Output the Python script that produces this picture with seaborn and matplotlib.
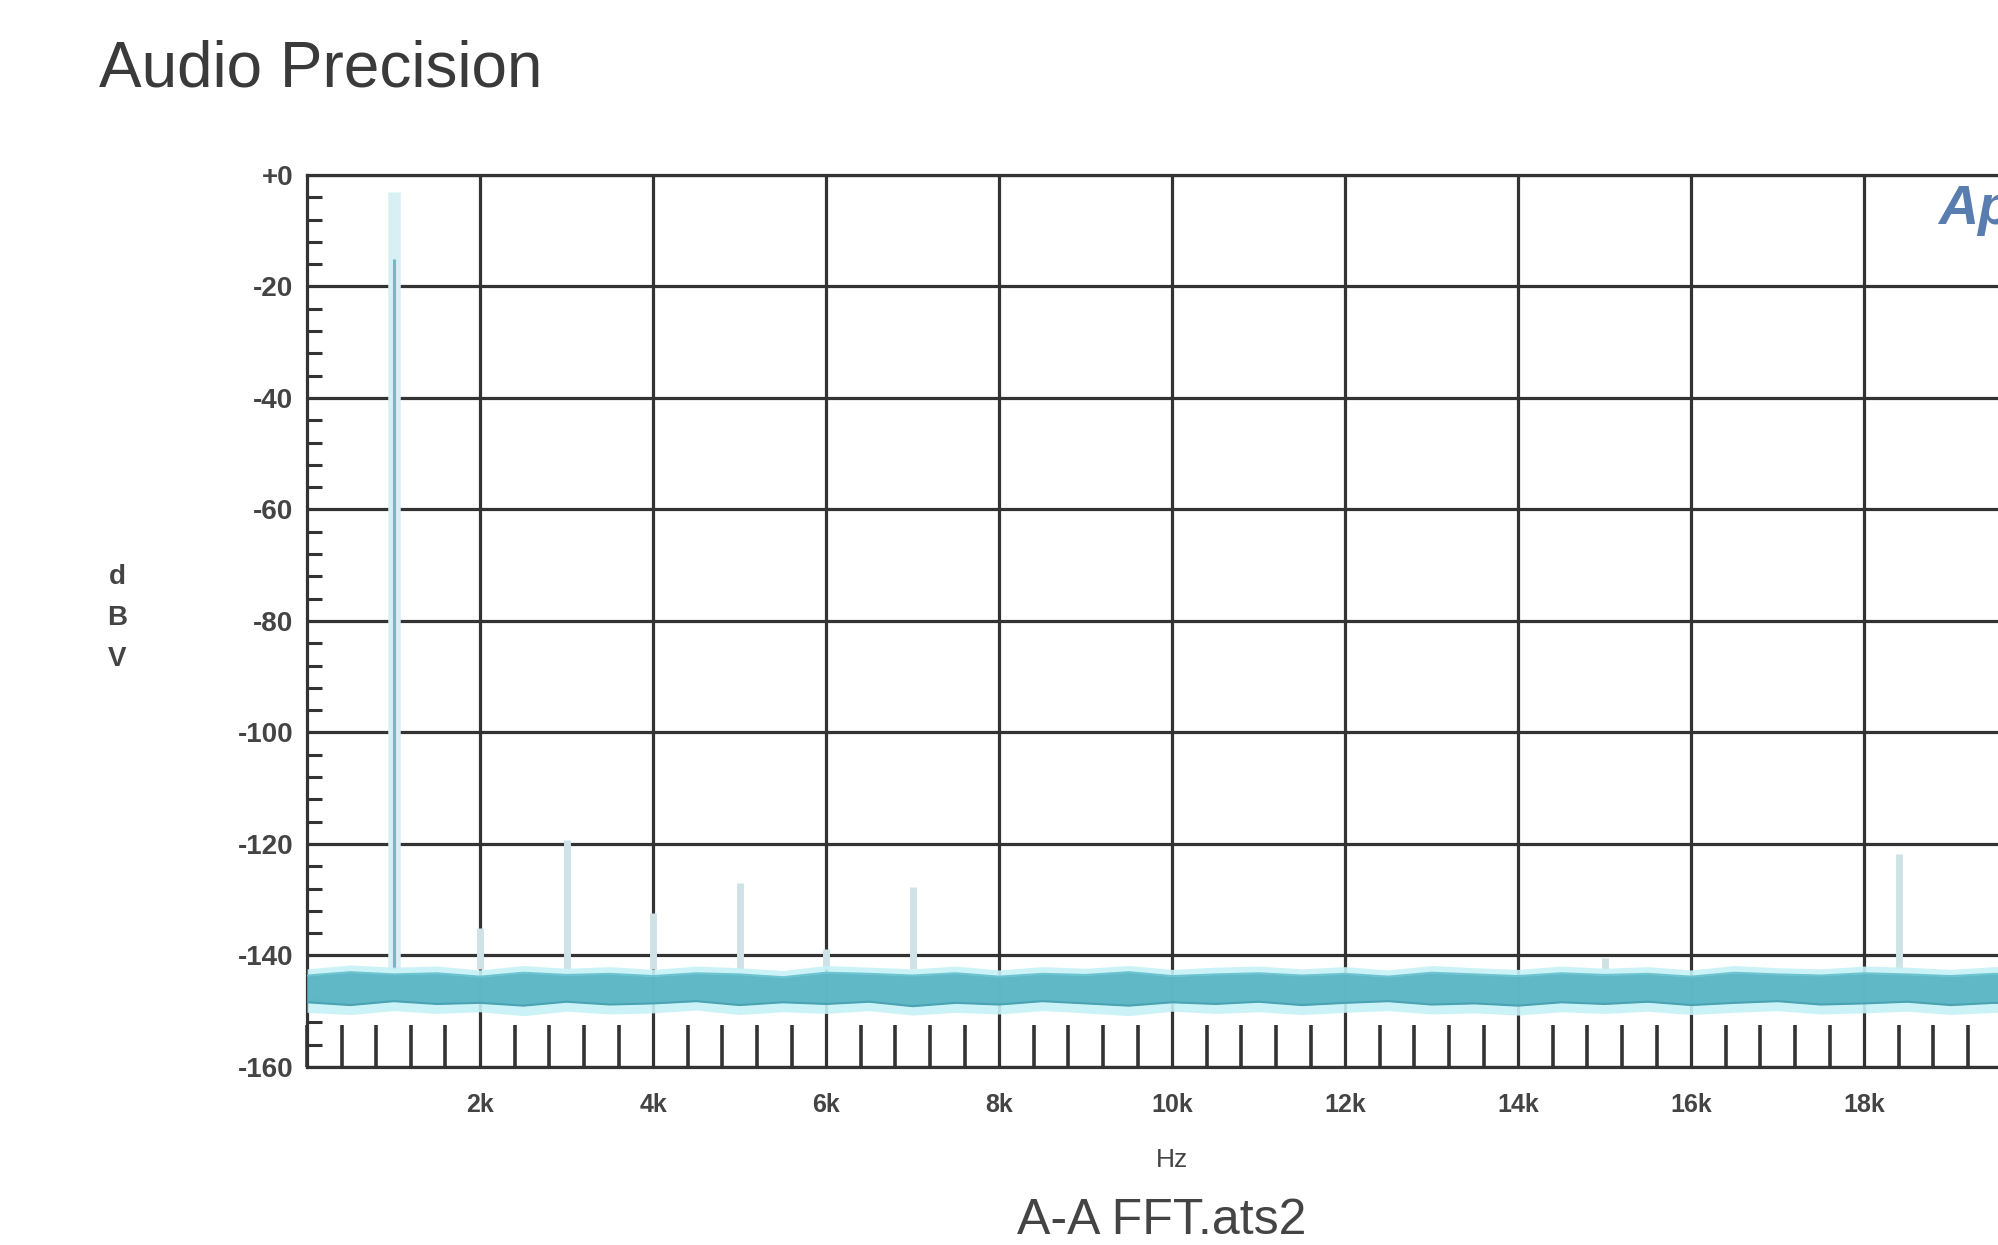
import matplotlib
matplotlib.use("Agg")
import numpy as np
import pandas as pd
import seaborn as sns
import matplotlib.pyplot as plt
from matplotlib.ticker import MultipleLocator, FixedLocator

# Noise floor, every 500 Hz (dBV)
freq_hz = [0, 500, 1000, 1500, 2000, 2500, 3000, 3500, 4000, 4500,
           5000, 5500, 6000, 6500, 7000, 7500, 8000, 8500, 9000, 9500,
           10000, 10500, 11000, 11500, 12000, 12500, 13000, 13500, 14000, 14500,
           15000, 15500, 16000, 16500, 17000, 17500, 18000, 18500, 19000, 19500, 20000]
light_top = [-142.4, -141.7, -142.1, -141.9, -142.6, -141.8, -142.3, -142.0, -142.5, -141.9,
             -142.2, -142.7, -141.8, -142.1, -142.4, -141.9, -142.6, -142.0, -142.3, -141.8,
             -142.5, -142.1, -141.9, -142.4, -142.0, -142.6, -141.8, -142.2, -142.5, -141.9,
             -142.3, -142.0, -142.6, -141.8, -142.2, -142.4, -141.9, -142.1, -142.5, -142.0, -142.3]
dark_top = [-143.6, -143.0, -143.4, -143.2, -143.8, -143.1, -143.5, -143.3, -143.7, -143.2,
            -143.4, -143.9, -143.1, -143.3, -143.6, -143.2, -143.8, -143.3, -143.5, -143.0,
            -143.7, -143.4, -143.2, -143.6, -143.3, -143.8, -143.1, -143.4, -143.7, -143.2,
            -143.5, -143.3, -143.8, -143.1, -143.4, -143.6, -143.2, -143.4, -143.7, -143.3, -143.5]
dark_bottom = [-148.4, -148.9, -148.2, -148.7, -148.5, -149.0, -148.3, -148.8, -148.6, -148.2,
               -148.9, -148.4, -148.7, -148.3, -149.1, -148.5, -148.8, -148.2, -148.6, -149.0,
               -148.4, -148.7, -148.3, -148.9, -148.5, -148.2, -148.8, -148.6, -149.0, -148.4,
               -148.7, -148.3, -148.9, -148.5, -148.2, -148.8, -148.6, -148.3, -148.9, -148.5, -148.7]
light_bottom = [-150.2, -150.6, -149.9, -150.4, -150.1, -150.8, -150.0, -150.5, -150.3, -149.8,
                -150.6, -150.1, -150.4, -149.9, -150.7, -150.2, -150.5, -149.9, -150.3, -150.8,
                -150.0, -150.4, -150.1, -150.6, -150.2, -149.9, -150.5, -150.3, -150.7, -150.1,
                -150.4, -150.0, -150.6, -150.2, -149.9, -150.5, -150.3, -150.0, -150.6, -150.2, -150.4]

# fundamental and harmonic / spurious spikes
fund_hz = [1000]
fund_peak_light = [-3.0]
fund_peak_dark = [-15.0]
spur_hz = [2000, 3000, 4000, 5000, 6000, 7000, 15000, 18400]
spur_peak = [-135.0, -119.3, -132.4, -127.0, -138.8, -127.7, -140.5, -121.8]

y_ticks = [0, -20, -40, -60, -80, -100, -120, -140, -160]
y_labels = ['+0', '-20', '-40', '-60', '-80', '-100', '-120', '-140', '-160']
x_ticks = [2000, 4000, 6000, 8000, 10000, 12000, 14000, 16000, 18000, 20000]
x_labels = ['2k', '4k', '6k', '8k', '10k', '12k', '14k', '16k', '18k', '20k']

sns.set_style("white")
plt.rcParams['font.family'] = ['Liberation Sans', 'DejaVu Sans']

grid_col = '#333333'
fig = plt.figure(figsize=(19.98, 12.45), dpi=100)
ax = fig.add_axes([0.1537, 0.143, 0.8659, 0.7165])

ax.set_xlim(0, 20000)
ax.set_ylim(-160, 0)
ax.yaxis.set_major_locator(FixedLocator(y_ticks))
ax.set_yticklabels(y_labels)
ax.xaxis.set_major_locator(FixedLocator(x_ticks))
ax.set_xticklabels(x_labels)
ax.yaxis.set_minor_locator(MultipleLocator(4))
ax.xaxis.set_minor_locator(MultipleLocator(400))
ax.grid(True, which='major', color=grid_col, lw=2.3, zorder=1)
ax.set_axisbelow(True)
for s in ax.spines.values():
    s.set_color(grid_col)
    s.set_linewidth(2.3)

ax.tick_params(which='both', bottom=True, left=True, top=False, right=False)
ax.tick_params(axis='x', which='major', length=0, pad=19, labelsize=18, labelcolor='#444444')
ax.tick_params(axis='y', which='major', length=0, pad=10, labelsize=20, labelcolor='#444444')
ax.tick_params(axis='x', which='minor', direction='in', length=30, width=2.6, color=grid_col)
ax.tick_params(axis='y', which='minor', direction='in', length=11, width=2.2, color=grid_col)
for lab in ax.get_xticklabels() + ax.get_yticklabels():
    lab.set_fontweight('bold')

# spikes over the grid
ax.vlines(spur_hz, light_top[0], spur_peak, color='#cfe3e6', lw=5, zorder=3)
ax.vlines(fund_hz, light_top[0], fund_peak_light, color='#d8f0f4', lw=9, zorder=3)
ax.vlines(fund_hz, light_top[0], fund_peak_dark, color='#72b9c3', lw=2.2, zorder=4)

# noise floor band
ax.fill_between(freq_hz, light_bottom, light_top, color='#c6f2f7', alpha=0.9, lw=0, zorder=5)
ax.fill_between(freq_hz, dark_bottom, dark_top, color='#55b1c0', alpha=0.9, lw=0, zorder=6)
sns.lineplot(x=freq_hz, y=dark_top, color='#6cc4d1', lw=1.5, ax=ax, zorder=7)
sns.lineplot(x=freq_hz, y=dark_bottom, color='#4aa3b3', lw=1.5, ax=ax, zorder=7)

ax.set_xlabel('Hz', fontsize=19, color='#444444', labelpad=22)
ax.set_ylabel('')

fig.text(0.0586, 0.5036, 'd\nB\nV', ha='center', va='center', fontsize=20,
         fontweight='bold', color='#444444', linespacing=1.75)
fig.text(0.0495, 0.944, 'Audio Precision', ha='left', va='center', fontsize=46, color='#3a3a3a')
fig.text(0.5816, 0.019, 'A-A FFT.ats2', ha='center', va='center', fontsize=36, color='#444444')
fig.text(0.970, 0.831, 'Ap', ha='left', va='center', fontsize=40, style='italic',
         fontweight='bold', color='#5a7db0')

fig.savefig('out.png', dpi=100)
